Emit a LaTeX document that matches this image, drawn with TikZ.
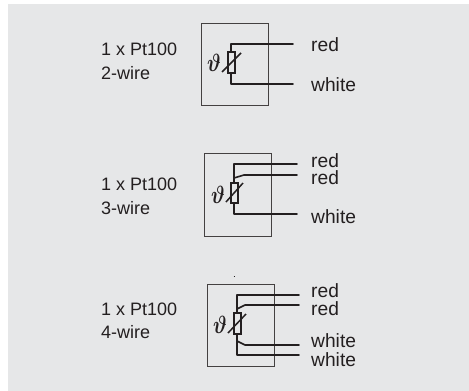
\documentclass[tikz,border=0pt]{standalone}
\usepackage{fontspec}
\usepackage{graphicx}
\setmainfont{Liberation Sans}
\definecolor{panel}{HTML}{E6E7E8}
\definecolor{ink}{HTML}{231F20}
\newcommand{\sensortheta}{\scalebox{.8}[1]{$\vartheta$}}
\tikzset{
  txt/.style={anchor=base west,inner sep=0pt,text=ink,font=\fontsize{18}{20}\selectfont},
  wlabel/.style={txt,font=\fontsize{19.2}{20}\selectfont},
  housing/.style={draw=ink!85,line width=1pt,inner sep=0pt,anchor=north west},
  wire/.style={draw=ink,line width=1.6pt,line cap=round,line join=round},
  sensor/.style={draw=ink,line width=1.2pt,inner sep=0pt,minimum width=7pt,minimum height=21pt,fill=panel},
  slashline/.style={draw=ink,line width=1.5pt},
  theta/.style={inner sep=0pt,text=ink,font=\fontsize{24}{26}\selectfont\boldmath}
}
\begin{document}
\begin{tikzpicture}[x=1pt,y=-1pt]
\useasboundingbox (0,0) rectangle (469,391);
\fill[panel] (8,4) rectangle (469,391);
% Row 1
\node[txt] (a1) at (101,55) {1 x Pt100};
\node[txt] (a2) at (101,79) {2-wire};
\node[housing,minimum width=67pt,minimum height=82pt] (b1) at (201,23) {};
\coordinate (t1) at (231,44); \coordinate (t1e) at (293,44);
\coordinate (u1) at (231,84); \coordinate (u1e) at (293,84);
\draw[wire] (t1e) -- (t1) -- (u1) -- (u1e);
\node[sensor] (r1) at (231.5,62.5) {};
\coordinate (s1a) at (222,72); \coordinate (s1b) at (241,53);
\draw[slashline] (s1a) -- (s1b);
\node[theta] (th1) at (214,63) {\sensortheta};
\node[wlabel] (l1a) at (311,51.5) {red};
\node[wlabel] (l1b) at (311,91) {white};
% Row 2
\node[txt] (c1) at (101,190) {1 x Pt100};
\node[txt] (c2) at (101,214) {3-wire};
\node[housing,minimum width=67pt,minimum height=83pt] (b2) at (204,153) {};
\coordinate (t2) at (234,164); \coordinate (t2e) at (297,164);
\coordinate (m2) at (234,178); \coordinate (m2c) at (244,175); \coordinate (m2e) at (297,175);
\coordinate (u2) at (234,214); \coordinate (u2e) at (297,214);
\draw[wire] (t2e) -- (t2) -- (u2) -- (u2e);
\draw[wire] (m2) -- (m2c) -- (m2e);
\node[sensor,minimum height=20pt] (r2) at (234.5,193) {};
\coordinate (s2a) at (226,202); \coordinate (s2b) at (243,183);
\draw[slashline] (s2a) -- (s2b);
\node[theta] (th2) at (218,195) {\sensortheta};
\node[wlabel] (l2a) at (311,167.5) {red};
\node[wlabel] (l2b) at (311,184.5) {red};
\node[wlabel] (l2c) at (311,223) {white};
% Row 3
\node[txt] (d1) at (101,315) {1 x Pt100};
\node[txt] (d2) at (101,338) {4-wire};
\coordinate (sp) at (233.5,276); \coordinate (spe) at (235,276);
\draw[draw=ink,line width=.7pt] (sp) -- (spe);
\node[housing,minimum width=67pt,minimum height=82pt] (b3) at (207,284) {};
\coordinate (t3) at (237,295); \coordinate (t3e) at (299,295);
\coordinate (m3) at (237,309); \coordinate (m3c) at (245,305); \coordinate (m3e) at (299,305);
\coordinate (n3) at (237,341); \coordinate (n3c) at (245,345); \coordinate (n3e) at (299,345);
\coordinate (u3) at (237,355); \coordinate (u3e) at (299,355);
\draw[wire] (t3e) -- (t3) -- (u3) -- (u3e);
\draw[wire] (m3) -- (m3c) -- (m3e);
\draw[wire] (n3) -- (n3c) -- (n3e);
\node[sensor] (r3) at (237.5,323.5) {};
\coordinate (s3a) at (228,333); \coordinate (s3b) at (246,314);
\draw[slashline] (s3a) -- (s3b);
\node[theta] (th3) at (220,325) {\sensortheta};
\node[wlabel] (l3a) at (311,297.5) {red};
\node[wlabel] (l3b) at (311,315.5) {red};
\node[wlabel] (l3c) at (311,347) {white};
\node[wlabel] (l3d) at (311,366.5) {white};
\end{tikzpicture}
\end{document}
